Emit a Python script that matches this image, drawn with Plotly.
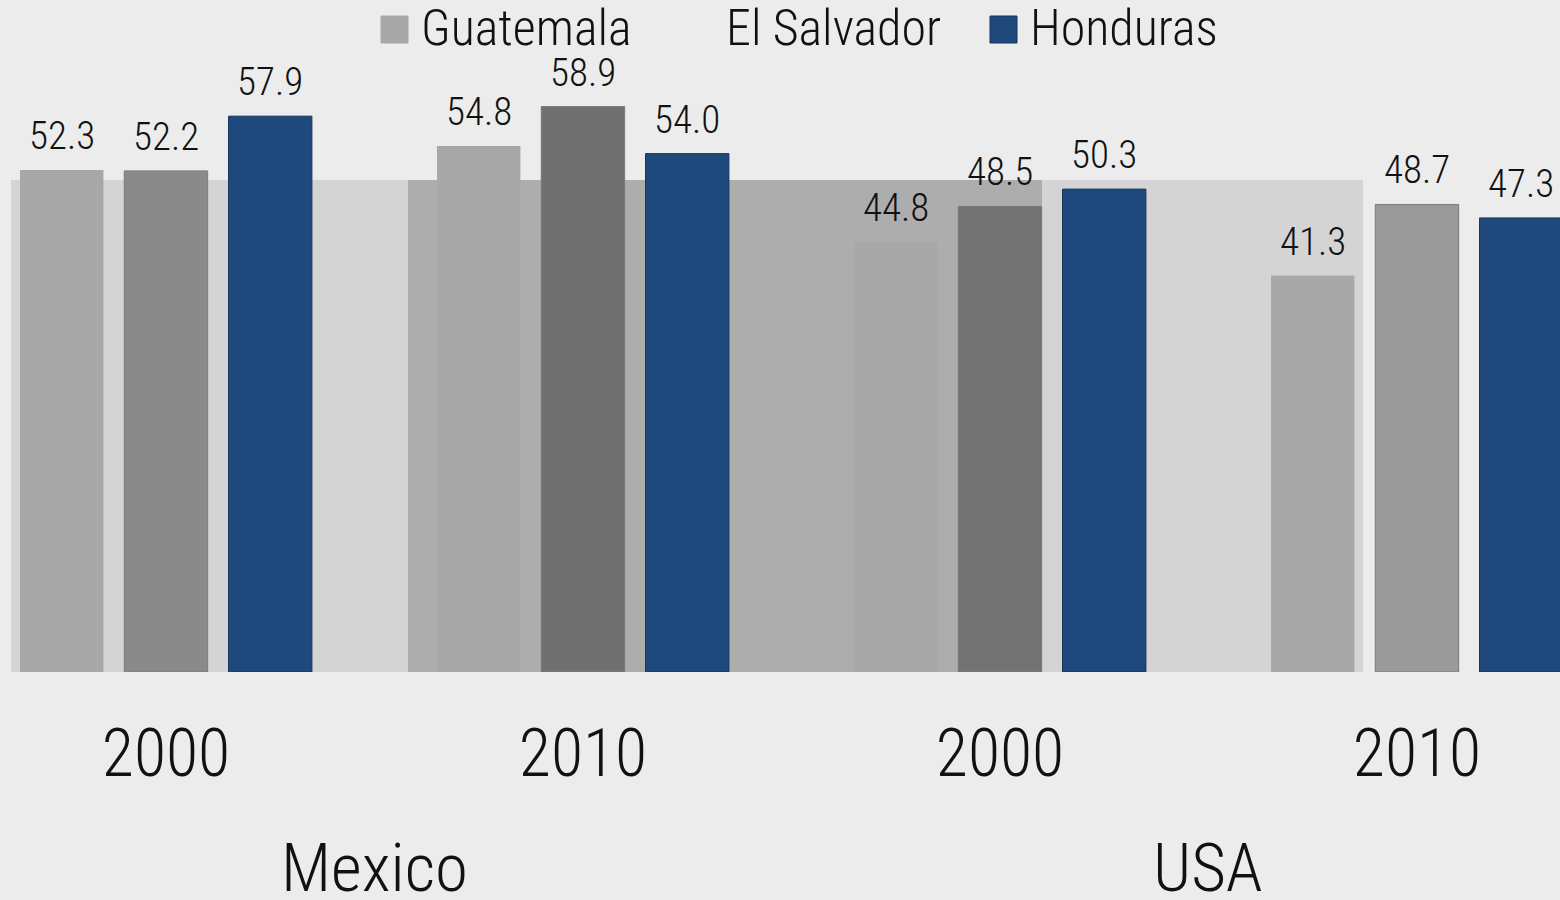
import plotly.graph_objects as go

# Share of migrants (%) by origin country, destination and census year
years = ["2000", "2010", "2000", "2010"]
destinations = ["Mexico", "USA"]
series_names = ["Guatemala", "El Salvador", "Honduras"]
guatemala = [52.3, 54.8, 44.8, 41.3]
el_salvador = [52.2, 58.9, 48.5, 48.7]
honduras = [57.9, 54.0, 50.3, 47.3]

FONT = "Liberation Sans Narrow, Arial Narrow, Roboto Condensed, DejaVu Sans Condensed, sans-serif"
WEIGHT = 300
BG = "#ececec"
TEXT = "#111111"

W, H = 1560, 900
PLOT_BOTTOM = 672          # pixel row of the value axis baseline
SLOT = 0.25                # width of one bar slot inside a group

x_pos = list(range(len(years)))
values = [guatemala, el_salvador, honduras]
bar_colors = [
    "#a8a8a8",
    ["#8a8a8a", "#707070", "#727272", "#9a9a9a"],
    "#1f497d",
]
line_colors = ["#a8a8a8", "#7a7a7a", "#17375e"]
line_widths = [0, 1, 1]

fig = go.Figure()
for name, vals, col, lc, lw in zip(series_names, values, bar_colors, line_colors, line_widths):
    fig.add_trace(go.Bar(
        name=name, x=x_pos, y=vals,
        marker=dict(color=col, line=dict(color=lc, width=lw)),
        showlegend=False, hoverinfo="skip",
    ))

# value labels above every bar
annotations = []
for i, vals in enumerate(values):
    for j, v in enumerate(vals):
        annotations.append(dict(
            x=j + (i - 1) * SLOT, y=v, xref="x", yref="y",
            text=f"{v:.1f}", showarrow=False,
            yanchor="bottom", yshift=9,
            font=dict(family=FONT, size=39, color=TEXT, weight=WEIGHT),
        ))

# destination labels under each pair of years
for k, dest in enumerate(destinations):
    annotations.append(dict(
        x=2 * k + 0.5, y=(PLOT_BOTTOM - 868) / PLOT_BOTTOM,
        xref="x", yref="paper", text=dest, showarrow=False,
        yanchor="middle",
        font=dict(family=FONT, size=67, color=TEXT, weight=WEIGHT),
    ))

# legend drawn along the top edge
legend_left = [381, 686, 990]
legend_marker = ["#a8a8a8", BG, "#1f497d"]
legend_line = ["#a8a8a8", BG, "#17375e"]
shapes = []
for name, left, mc, ml in zip(series_names, legend_left, legend_marker, legend_line):
    shapes.append(dict(
        type="rect", xref="paper", yref="paper",
        x0=left / W, x1=(left + 27) / W,
        y0=(PLOT_BOTTOM - 43) / PLOT_BOTTOM, y1=(PLOT_BOTTOM - 16) / PLOT_BOTTOM,
        fillcolor=mc, line=dict(color=ml, width=1), layer="above",
    ))
    annotations.append(dict(
        x=(left + 38) / W, y=(PLOT_BOTTOM - 28) / PLOT_BOTTOM,
        xref="paper", yref="paper", text=name, showarrow=False,
        xanchor="left", yanchor="middle",
        font=dict(family=FONT, size=50, color=TEXT, weight=WEIGHT),
    ))

# background panels behind the bars
shapes.insert(0, dict(
    type="rect", xref="paper", yref="paper",
    x0=11 / W, x1=1363 / W, y0=0, y1=(PLOT_BOTTOM - 180) / PLOT_BOTTOM,
    fillcolor="#d4d4d4", line=dict(width=0), layer="below",
))
shapes.insert(1, dict(
    type="rect", xref="paper", yref="paper",
    x0=408 / W, x1=1042 / W, y0=0, y1=(PLOT_BOTTOM - 180) / PLOT_BOTTOM,
    fillcolor="#adadad", line=dict(width=0), layer="below",
))

fig.update_layout(
    width=W, height=H,
    margin=dict(l=0, r=0, t=0, b=H - PLOT_BOTTOM),
    paper_bgcolor=BG, plot_bgcolor=BG,
    barmode="group", bargap=0.25, bargroupgap=0.2,
    font=dict(family=FONT, color=TEXT, weight=WEIGHT),
    xaxis=dict(
        range=[-0.398, 3.343], tickvals=x_pos, ticktext=years,
        tickfont=dict(family=FONT, size=66, color=TEXT, weight=WEIGHT),
        showgrid=False, zeroline=False, showline=False, ticks="",
        ticklabelstandoff=37, fixedrange=True,
    ),
    yaxis=dict(range=[0, 70], visible=False, fixedrange=True),
    annotations=annotations, shapes=shapes,
)

fig.write_html("out.html")
